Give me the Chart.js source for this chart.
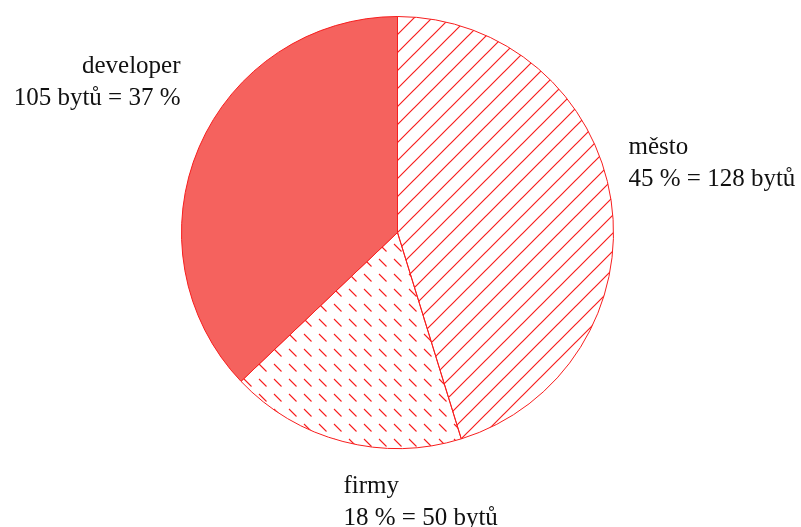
<!DOCTYPE html>
<html>
<head>
<meta charset="utf-8">
<script src="https://cdn.jsdelivr.net/npm/chart.js@4"></script>
<style>
  html, body { margin: 0; padding: 0; background: #fff; }
  canvas { display: block; }
</style>
</head>
<body>
<canvas id="bytyChart" width="801" height="527"></canvas>
<script>
// Rozdělení bytů podle vlastníka
const kategorie = ['město', 'firmy', 'developer'];
const pocetBytu = [128, 50, 105];

const celkem = pocetBytu.reduce((a, b) => a + b, 0);
const procenta = pocetBytu.map(v => Math.round(v / celkem * 100));

const cervena = '#f71e1e';

// Šrafování "/" pro město
function srafy() {
    const s = 18;
    const c = document.createElement('canvas');
    c.width = s; c.height = s;
    const g = c.getContext('2d');
    g.strokeStyle = cervena;
    g.lineWidth = 1.2;
    g.beginPath();
    g.moveTo(-1, s + 1); g.lineTo(s + 1, -1);
    g.moveTo(-2, 2); g.lineTo(2, -2);
    g.moveTo(s - 2, s + 2); g.lineTo(s + 2, s - 2);
    g.stroke();
    return document.createElement('canvas').getContext('2d').createPattern(c, 'repeat');
}

// Krátké čárky "\" pro firmy
function carky() {
    const c = document.createElement('canvas');
    c.width = 15; c.height = 15;
    const g = c.getContext('2d');
    g.strokeStyle = cervena;
    g.lineWidth = 1.1;
    g.beginPath();
    g.moveTo(4, 4); g.lineTo(11.5, 11.5);
    g.stroke();
    return document.createElement('canvas').getContext('2d').createPattern(c, 'repeat');
}

// Popisky vedle výsečí (posun od středu koláče, zarovnání)
const popisky = [
    { radky: ['město', procenta[0] + ' % = ' + pocetBytu[0] + ' bytů'], dx: 231, dy: -79, align: 'left' },
    { radky: ['firmy', procenta[1] + ' % = ' + pocetBytu[1] + ' bytů'], dx: -54, dy: 260, align: 'left' },
    { radky: ['developer', pocetBytu[2] + ' bytů = ' + procenta[2] + ' %'], dx: -217, dy: -160, align: 'right' }
];

const popiskyPlugin = {
    id: 'popisky',
    afterDraw(chart) {
        const arc = chart.getDatasetMeta(0).data[0];
        const ctx = chart.ctx;
        ctx.save();
        ctx.fillStyle = '#111';
        ctx.font = '25px "Liberation Serif", "DejaVu Serif", serif';
        ctx.textBaseline = 'alphabetic';
        popisky.forEach(p => {
            ctx.textAlign = p.align;
            p.radky.forEach((t, i) => {
                ctx.fillText(t, arc.x + p.dx, arc.y + p.dy + i * 32);
            });
        });
        ctx.restore();
    }
};

const ctx = document.getElementById('bytyChart').getContext('2d');
new Chart(ctx, {
    type: 'pie',
    data: {
        labels: kategorie,
        datasets: [{
            data: pocetBytu,
            backgroundColor: [srafy(), carky(), '#f5625e'],
            borderColor: cervena,
            borderWidth: 1
        }]
    },
    options: {
        responsive: false,
        animation: false,
        layout: { padding: { top: 16, bottom: 78, left: 181, right: 187 } },
        plugins: {
            legend: { display: false },
            tooltip: { enabled: false }
        }
    },
    plugins: [popiskyPlugin]
});
</script>
</body>
</html>
